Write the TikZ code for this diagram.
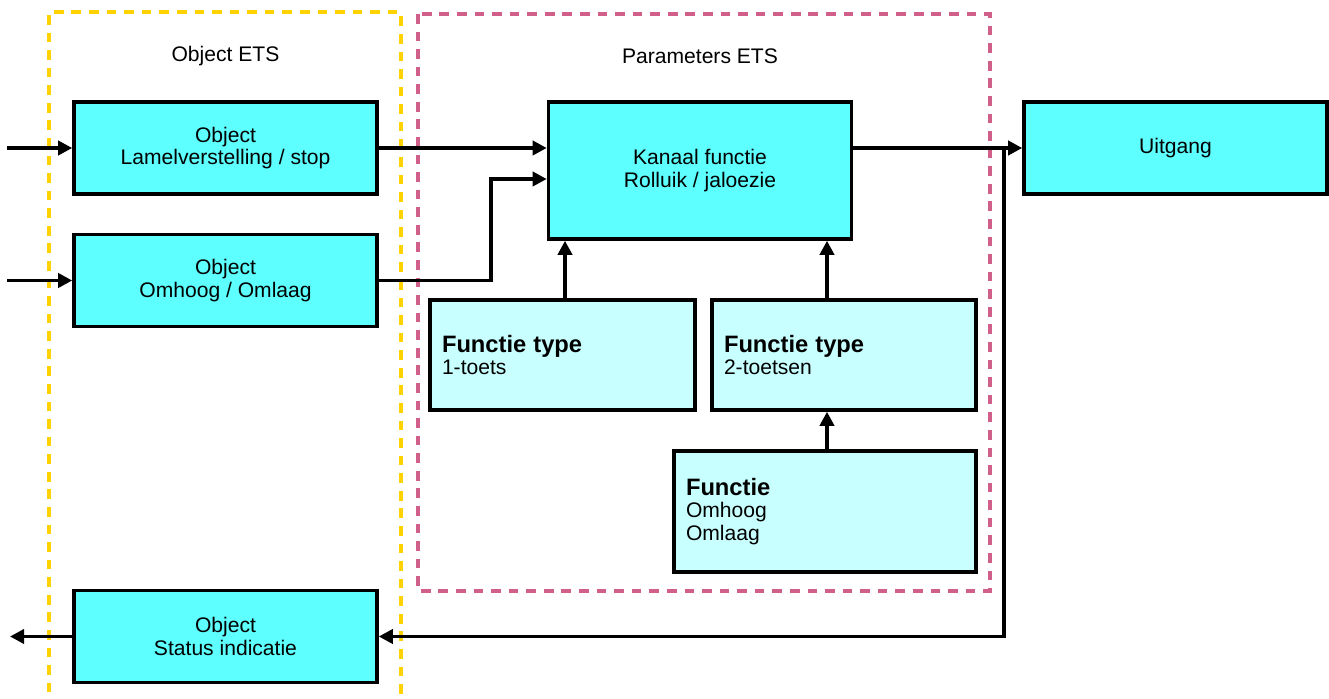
\documentclass[tikz,border=0pt]{standalone}
\usepackage{fontspec}
\setmainfont{Liberation Sans}
\usetikzlibrary{arrows.meta}
\definecolor{objcyan}{HTML}{5EFFFF}
\definecolor{parcyan}{HTML}{C8FFFF}
\definecolor{etsyellow}{HTML}{FFD200}
\definecolor{etspink}{HTML}{D0608A}
\newcommand{\titel}[1]{{\fontsize{13.5}{15}\selectfont\bfseries #1}}

\begin{document}
\begin{tikzpicture}[every node/.style={font=\fontsize{12}{13}\selectfont},
  objbox/.style={rectangle, draw=black, line width=2pt, fill=objcyan, align=center,
    minimum width=6.06cm, minimum height=1.84cm},
  parbox/.style={rectangle, draw=black, line width=2pt, fill=parcyan, align=left,
    inner xsep=0.24cm, minimum height=2.2cm},
  arr/.style={line width=2pt, -{Triangle[length=8pt,width=8pt]}},
  etsframe/.style={line width=2pt, dash pattern=on 5.5pt off 4.5pt}]
\useasboundingbox (0,0) rectangle (26.58,-13.98);
% ETS frames
\draw[etsframe, etsyellow] (0.98,-14.2) -- (0.98,-0.24) -- (8.02,-0.24) -- (8.02,-14.2);
\draw[etsframe, etspink] (8.36,-0.28) rectangle (19.80,-11.82);
\node (lblobj) at (4.51,-1.12) {Object ETS};
\node (lblpar) at (14.0,-1.12) {Parameters ETS};
% Objects
\node[objbox] (lam) at (4.51,-2.96) {Object\\Lamelverstelling / stop};
\node[objbox] (omh) at (4.51,-5.61) {Object\\Omhoog / Omlaag};
\node[objbox] (sta) at (4.51,-12.73) {Object\\Status indicatie};
% Parameters
\node[objbox, minimum height=2.74cm] (kan) at (14.0,-3.41) {Kanaal functie\\Rolluik / jaloezie};
\node[parbox, text width=4.82cm] (ft1) at (11.25,-7.10) {\titel{Functie type}\\1-toets};
\node[parbox, text width=4.80cm] (ft2) at (16.88,-7.10) {\titel{Functie type}\\2-toetsen};
\node[parbox, text width=5.56cm, minimum height=2.42cm] (fun) at (16.50,-10.23) {\titel{Functie}\\Omhoog\\Omlaag};
\node[objbox] (uit) at (23.51,-2.96) {Uitgang};
% connections
\coordinate (in1) at (0.14,-2.96);
\coordinate (in2) at (0.14,-5.61);
\coordinate (out1) at (0.2,-12.73);
\coordinate (j1) at (9.82,-3.58);
\coordinate (j2) at (20.08,-2.96);
\draw[arr] (in1) -- (lam);
\draw[arr] (in2) -- (omh);
\draw[arr] (lam.east) -- (lam.east -| kan.west);
\draw[arr] (omh.east) -| (j1) -- (j1 -| kan.west);
\draw[arr] (kan.east |- uit.west) -- (uit.west);
\draw[arr] (j2) |- (sta.east);
\draw[arr] (sta.west) -- (out1);
\draw[arr] ([xshift=0.05cm]ft1.north) -- ([xshift=0.05cm]ft1.north |- kan.south);
\draw[arr] ([xshift=-0.34cm]ft2.north) -- ([xshift=-0.34cm]ft2.north |- kan.south);
\draw[arr] ([xshift=0.04cm]fun.north) -- ([xshift=0.04cm]fun.north |- ft2.south);
\end{tikzpicture}
\end{document}
